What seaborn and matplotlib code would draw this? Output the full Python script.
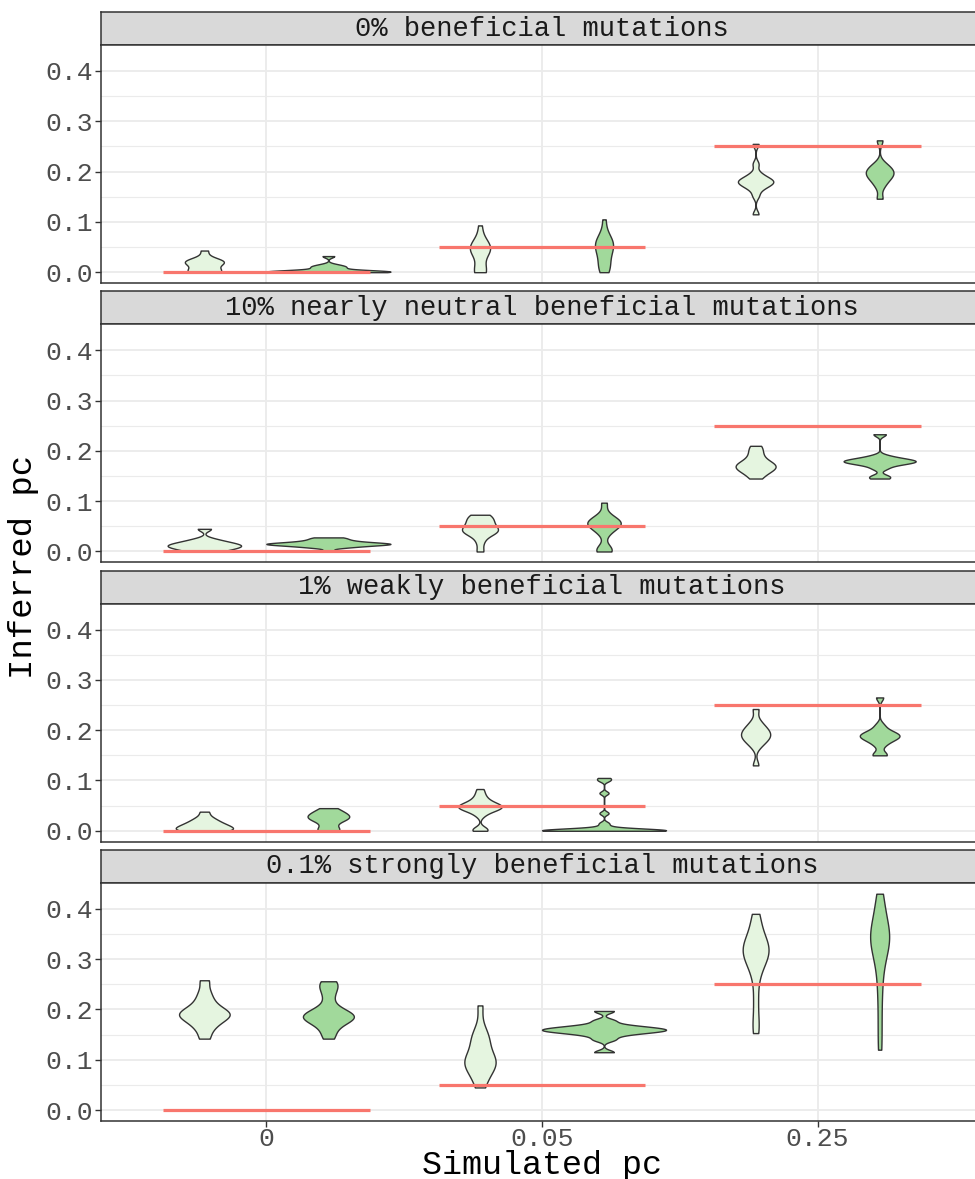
import numpy as np
import pandas as pd
import matplotlib
matplotlib.use("Agg")
import matplotlib.pyplot as plt
import seaborn as sns
from matplotlib.ticker import FixedLocator

# ---------------- data ----------------
panels = ["0% beneficial mutations",
          "10% nearly neutral beneficial mutations",
          "1% weakly beneficial mutations",
          "0.1% strongly beneficial mutations"]
sim_pc = ["0", "0.05", "0.25"]
truth = [0.0, 0.05, 0.25]
methods = ["A", "B"]
y_ticks = [0.0, 0.1, 0.2, 0.3, 0.4]

# inferred pc samples: [cat "0", cat "0.05", cat "0.25"]
p1_A = [[0.0, 0.0, 0.001, 0.003, 0.007, 0.017, 0.019, 0.02, 0.021, 0.023, 0.026, 0.043],
        [0.0, 0.0, 0.003, 0.008, 0.036, 0.041, 0.044, 0.047, 0.049, 0.052, 0.057, 0.066, 0.093],
        [0.115, 0.152, 0.165, 0.17, 0.174, 0.177, 0.179, 0.181, 0.183, 0.186, 0.19, 0.197, 0.215, 0.255]]
p1_B = [[0.0, 0.0, 0.0, 0.0003, 0.0006, 0.0009, 0.0012, 0.0015, 0.0019, 0.0023, 0.0028, 0.008, 0.01, 0.012, 0.015, 0.032],
        [0.0, 0.005, 0.012, 0.02, 0.03, 0.039, 0.046, 0.05, 0.054, 0.058, 0.062, 0.068, 0.076, 0.105],
        [0.146, 0.17, 0.181, 0.187, 0.192, 0.196, 0.2, 0.204, 0.209, 0.216, 0.262]]
p2_A = [[0.0, 0.003, 0.006, 0.008, 0.01, 0.012, 0.013, 0.015, 0.018, 0.02, 0.025, 0.045],
        [0.0, 0.02, 0.035, 0.038, 0.04, 0.042, 0.045, 0.05, 0.055, 0.06, 0.065, 0.07, 0.073],
        [0.145, 0.155, 0.16, 0.164, 0.167, 0.17, 0.173, 0.176, 0.181, 0.19, 0.2, 0.21]]
p2_B = [[0.0, 0.008, 0.01, 0.012, 0.013, 0.014, 0.015, 0.015, 0.016, 0.017, 0.018, 0.02, 0.022, 0.025, 0.028],
        [0.0, 0.003, 0.006, 0.035, 0.045, 0.05, 0.053, 0.056, 0.058, 0.061, 0.065, 0.072, 0.097],
        [0.145, 0.15, 0.165, 0.172, 0.175, 0.177, 0.178, 0.18, 0.181, 0.183, 0.185, 0.19, 0.233]]
p3_A = [[0.0, 0.0, 0.001, 0.002, 0.004, 0.006, 0.008, 0.01, 0.012, 0.015, 0.018, 0.022, 0.027, 0.038],
        [0.0, 0.002, 0.004, 0.03, 0.037, 0.04, 0.042, 0.044, 0.046, 0.047, 0.048, 0.05, 0.051, 0.053,
         0.055, 0.058, 0.062, 0.067, 0.074, 0.083],
        [0.13, 0.168, 0.177, 0.182, 0.186, 0.19, 0.194, 0.198, 0.203, 0.208, 0.218, 0.242]]
p3_B = [[0.0, 0.002, 0.004, 0.018, 0.022, 0.025, 0.027, 0.029, 0.032, 0.035, 0.04, 0.045],
        [0.0, 0.0, 0.0, 0.0, 0.0002, 0.0004, 0.0006, 0.0008, 0.001, 0.0012, 0.0015, 0.002, 0.0025, 0.003,
         0.008, 0.015, 0.035, 0.075, 0.1, 0.105],
        [0.15, 0.152, 0.17, 0.178, 0.182, 0.185, 0.188, 0.19, 0.192, 0.195, 0.2, 0.21, 0.265]]
p4_A = [[0.142, 0.16, 0.17, 0.178, 0.183, 0.187, 0.19, 0.193, 0.197, 0.2, 0.21, 0.22, 0.235, 0.258],
        [0.045, 0.062, 0.077, 0.086, 0.091, 0.095, 0.099, 0.103, 0.108, 0.13, 0.14, 0.145, 0.16, 0.208],
        [0.153, 0.18, 0.22, 0.26, 0.283, 0.295, 0.302, 0.309, 0.315, 0.321, 0.327, 0.333, 0.34, 0.353, 0.372, 0.39]]
p4_B = [[0.142, 0.155, 0.168, 0.176, 0.18, 0.183, 0.185, 0.187, 0.189, 0.192, 0.197, 0.205, 0.225, 0.24, 0.25, 0.256],
        [0.115, 0.14, 0.148, 0.153, 0.155, 0.1565, 0.158, 0.1595, 0.161, 0.1625, 0.164, 0.166, 0.17, 0.178, 0.197],
        [0.12, 0.17, 0.22, 0.26, 0.29, 0.31, 0.322, 0.332, 0.34, 0.346, 0.352, 0.36, 0.372, 0.39, 0.41, 0.43]]

panel_A = [p1_A, p2_A, p3_A, p4_A]
panel_B = [p1_B, p2_B, p3_B, p4_B]

rows = []
for pi, pname in enumerate(panels):
    for ci, cat in enumerate(sim_pc):
        for m, src in zip(methods, (panel_A, panel_B)):
            for v in src[pi][ci]:
                rows.append((pname, cat, m, v))
df = pd.DataFrame(rows, columns=["panel", "sim", "method", "inferred"])

# ---------------- style ----------------
FONT = ["Liberation Mono", "DejaVu Sans Mono"]
plt.rcParams["font.family"] = FONT
LIGHT = "#E5F5E0"
DARK = "#A1D99B"
RED = "#F8766D"
GRID = "#EBEBEB"
BORDER = "#333333"


def nrd0(kde):
    x = np.asarray(kde.dataset).ravel()
    n = x.size
    sd = x.std(ddof=1)
    q75, q25 = np.percentile(x, [75, 25])
    lo = min(sd, (q75 - q25) / 1.34)
    if lo <= 0:
        lo = sd
    bw = 0.9 * lo * n ** (-0.2)
    return bw / sd


W, H = 975, 1179
fig = plt.figure(figsize=(W / 100, H / 100), dpi=100)
left_px, right_px = 101, 983
strip_h, panel_h, step = 33, 238, 279.3
tick_fs = 19
strip_fs = 19.5

for pi, pname in enumerate(panels):
    top = 12 + step * pi
    sax = fig.add_axes([left_px / W, 1 - (top + strip_h) / H,
                        (right_px - left_px) / W, strip_h / H])
    sax.set_facecolor("#D9D9D9")
    sax.set_xticks([]); sax.set_yticks([])
    for s in sax.spines.values():
        s.set_color(BORDER); s.set_linewidth(1.1)
    sax.text(0.5, 0.5, pname, ha="center", va="center", fontsize=strip_fs,
             color="#1A1A1A", transform=sax.transAxes)

    ax = fig.add_axes([left_px / W, 1 - (top + strip_h + panel_h) / H,
                       (right_px - left_px) / W, panel_h / H])
    sub = df[df["panel"] == pname]
    sns.violinplot(data=sub, x="sim", y="inferred", hue="method",
                   order=sim_pc, hue_order=methods, palette=[LIGHT, DARK],
                   saturation=1, density_norm="area", common_norm=True,
                   cut=0, inner=None,
                   linewidth=1.0, linecolor=BORDER, width=0.9, gap=0,
                   bw_method=nrd0, gridsize=512, legend=False, ax=ax)
    for i, t in enumerate(truth):
        ax.hlines(t, i - 0.375, i + 0.375, color=RED, lw=2.3, zorder=5)

    ax.set_xlim(-0.6, 2.6)
    ax.set_ylim(-0.0215, 0.4515)
    ax.yaxis.set_major_locator(FixedLocator(y_ticks))
    ax.yaxis.set_minor_locator(FixedLocator([0.05, 0.15, 0.25, 0.35]))
    ax.set_axisbelow(True)
    ax.grid(True, which="major", axis="both", color=GRID, lw=1.3)
    ax.grid(True, which="minor", axis="y", color=GRID, lw=0.8)
    ax.set_xlabel(""); ax.set_ylabel("")
    ax.tick_params(axis="y", which="major", length=4, width=1, color=BORDER,
                   labelsize=tick_fs, labelcolor="#4D4D4D", pad=2)
    ax.tick_params(axis="y", which="minor", length=0)
    ax.set_yticklabels([f"{v:.1f}" for v in y_ticks])
    if pi == len(panels) - 1:
        ax.tick_params(axis="x", length=4, width=1, color=BORDER,
                       labelsize=tick_fs, labelcolor="#4D4D4D", pad=0.5)
    else:
        ax.tick_params(axis="x", length=0, labelbottom=False)
    for s in ax.spines.values():
        s.set_color(BORDER); s.set_linewidth(1.1)

fig.text(24 / W, 1 - 567 / H, "Inferred pc", rotation=90, ha="center",
         va="center", fontsize=24.5, color="black")
fig.text(542 / W, 1 - 1174 / H, "Simulated pc", ha="center",
         va="baseline", fontsize=24, color="black")

fig.savefig("out.png", dpi=100)
